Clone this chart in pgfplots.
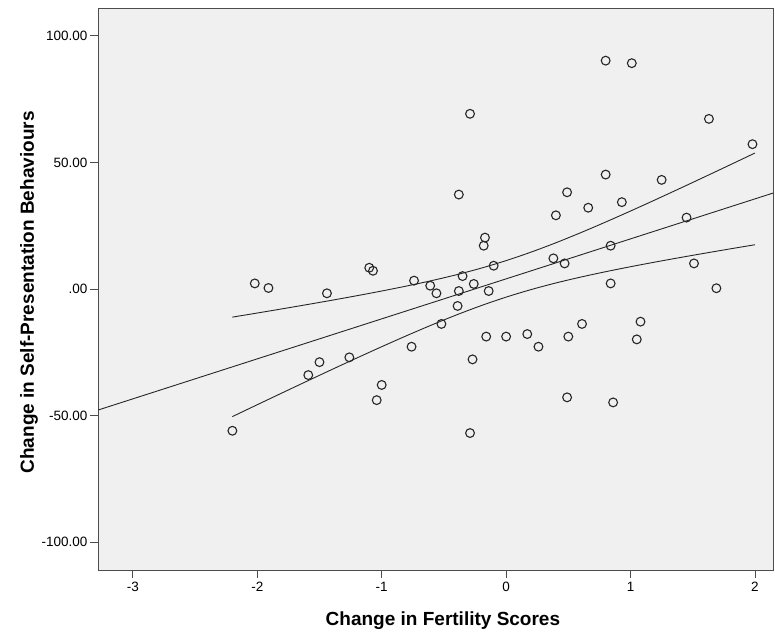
\documentclass[border=0pt]{standalone}
\usepackage{pgfplots}
\pgfplotsset{compat=1.18}
\usepackage{fontspec}
\setmainfont{Liberation Sans}
\begin{document}
\begin{tikzpicture}[x=1pt,y=1pt]
\useasboundingbox (0,0) rectangle (775,631);
\begin{axis}[
  at={(98pt,61pt)}, anchor=south west,
  scale only axis, width=675pt, height=562pt,
  xmin=-3.28, xmax=2.145, ymin=-111, ymax=111,
  axis background/.style={fill=black!6},
  axis line style={draw=black!70, line width=0.9pt},
  xtick={-3,-2,-1,0,1,2},
  xticklabels={-3,-2,-1,0,1,2},
  ytick={-100,-50,0,50,100},
  yticklabels={-100.00,-50.00,.00,50.00,100.00},
  xtick pos=bottom, ytick pos=left,
  tick align=outside,
  major tick length=8pt,
  tick style={draw=black!70, line width=0.9pt},
  ticklabel style={font=\fontsize{13.5}{15}\selectfont},
  xticklabel style={yshift=-1pt},
  yticklabel style={xshift=1pt},
  xlabel={Change in Fertility Scores},
  ylabel={Change in Self-Presentation Behaviours},
  xlabel style={font=\bfseries\fontsize{19}{21}\selectfont, at={(axis description cs:0.511,0)}, anchor=base, yshift=-55pt},
  ylabel style={font=\bfseries\fontsize{19}{21}\selectfont, at={(axis description cs:-0.1022,0.494)}, anchor=center},
  clip=true,
]
\addplot[only marks, mark=o, mark size=4.4pt, mark options={draw=black!85, line width=1.1pt}] coordinates {
(-2.20,-56.0) (-2.02,2.2) (-1.91,0.4) (-1.59,-34.0) (-1.50,-28.9) (-1.44,-1.7)
(-1.26,-27.0) (-1.10,8.4) (-1.07,7.2) (-1.04,-43.9) (-1.00,-37.9) (-0.76,-22.8)
(-0.74,3.3) (-0.61,1.3) (-0.56,-1.7) (-0.52,-13.8) (-0.39,-6.7) (-0.38,37.3)
(-0.38,-0.8) (-0.35,5.1) (-0.29,69.2) (-0.29,-56.9) (-0.27,-27.8) (-0.26,2.0)
(-0.18,17.1) (-0.17,20.3) (-0.16,-18.8) (-0.14,-0.8) (-0.10,9.2) (0.00,-18.8)
(0.17,-17.8) (0.26,-22.8) (0.38,12.1) (0.40,29.1) (0.47,10.1) (0.49,38.2)
(0.49,-42.8) (0.50,-18.8) (0.61,-13.8) (0.66,32.1) (0.80,90.2) (0.80,45.2)
(0.84,17.1) (0.84,2.2) (0.86,-44.8) (0.93,34.3) (1.01,89.2) (1.05,-19.9)
(1.08,-12.9) (1.25,43.1) (1.45,28.2) (1.51,10.1) (1.63,67.2) (1.69,0.3)
(1.98,57.2)
};
\addplot[black!85, line width=0.9pt] coordinates {(-3.28,-47.82) (2.145,37.89)};
\addplot[black!85, line width=0.9pt, smooth] coordinates {
(-2.2,-11.11) (-2.0,-9.49) (-1.8,-7.84) (-1.6,-6.16) (-1.4,-4.44) (-1.2,-2.66)
(-1.0,-0.80) (-0.8,1.17) (-0.6,3.29) (-0.4,5.62) (-0.2,8.24) (0.0,11.21)
(0.2,14.56) (0.4,18.26) (0.6,22.25) (0.8,26.45) (1.0,30.80) (1.2,35.26)
(1.4,39.80) (1.6,44.40) (1.8,49.04) (2.0,53.71)
};
\addplot[black!85, line width=0.9pt, smooth] coordinates {
(-2.2,-50.41) (-2.0,-45.71) (-1.8,-41.04) (-1.6,-36.40) (-1.4,-31.80) (-1.2,-27.26)
(-1.0,-22.80) (-0.8,-18.45) (-0.6,-14.25) (-0.4,-10.26) (-0.2,-6.56) (0.0,-3.21)
(0.2,-0.24) (0.4,2.38) (0.6,4.71) (0.8,6.83) (1.0,8.80) (1.2,10.66)
(1.4,12.44) (1.6,14.16) (1.8,15.84) (2.0,17.49)
};
\end{axis}
\end{tikzpicture}
\end{document}
